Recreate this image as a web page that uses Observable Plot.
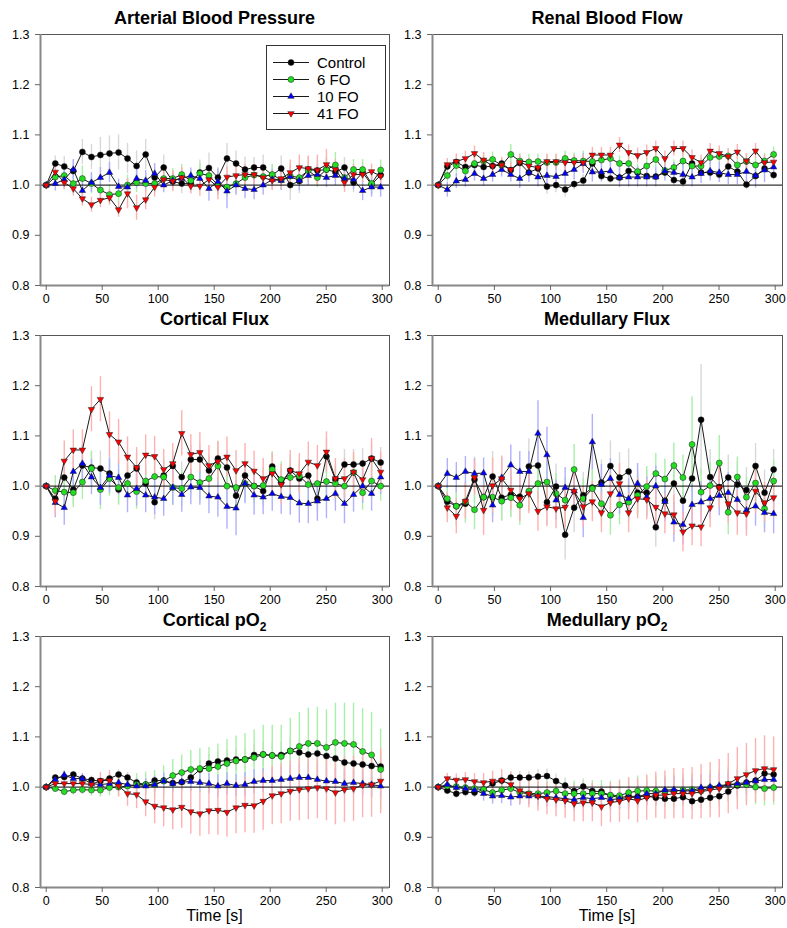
<!DOCTYPE html>
<html><head><meta charset="utf-8">
<script src="https://cdn.jsdelivr.net/npm/d3@7"></script>
<script src="https://cdn.jsdelivr.net/npm/@observablehq/plot@0.6"></script>
<style>
body{margin:0;background:#fff;font-family:"Liberation Sans",Arial,Helvetica,sans-serif;}
#wrap{position:relative;width:787px;height:928px;overflow:hidden;background:#fff;}
.ttl{position:absolute;font-weight:bold;font-size:18px;line-height:20px;text-align:center;color:#000;white-space:nowrap;}
.ttl sub{font-size:12px;line-height:0;}
.pnl{position:absolute;}
.xlab{position:absolute;font-size:16px;line-height:18px;text-align:center;color:#000;}
#legend{position:absolute;left:266px;top:45px;width:118px;height:83px;border:1px solid #333;background:#fff;}
</style></head><body><div id="wrap"></div>
<script>
const series = ["Control", "6 FO", "10 FO", "41 FO"];
const fills = ["#000000", "#22dd22", "#0000ff", "#ff0000"];
const errColors = ["#d8d8d8", "#a8f0a8", "#b0b0ff", "#ffb0b0"];
const time = [0,8.1,16.1,24.2,32.3,40.4,48.4,56.5,64.6,72.6,80.7,88.8,96.8,104.9,113,121,129.1,137.2,145.3,153.3,161.4,169.5,177.5,185.6,193.7,201.8,209.8,217.9,226,234,242.1,250.2,258.2,266.3,274.4,282.5,290.5,298.6];
const xTicks = [0, 50, 100, 150, 200, 250, 300];
const yTicks = [0.8, 0.9, 1.0, 1.1, 1.2, 1.3];

// Arterial Blood Pressure
const abpControl = [1.000,1.043,1.037,1.028,1.066,1.056,1.060,1.063,1.065,1.053,1.038,1.061,1.015,1.035,1.007,1.003,1.003,1.025,1.034,1.015,1.053,1.043,1.031,1.035,1.035,1.020,1.033,1.000,1.008,1.031,1.029,1.031,1.026,1.035,1.005,1.025,1.001,1.020];
const abp6FO = [1.000,1.016,1.019,1.003,1.013,1.003,0.990,0.981,0.983,1.000,1.005,1.003,1.003,1.013,1.013,1.021,1.009,1.023,1.019,1.000,0.996,1.003,1.015,1.020,1.017,1.021,1.010,1.018,1.015,1.029,1.015,1.031,1.040,1.015,1.031,1.031,1.003,1.030];
const abp10FO = [1.000,1.003,1.011,1.031,0.989,1.005,1.015,1.025,0.997,0.996,1.013,1.009,1.023,1.000,1.009,1.013,1.019,1.013,0.993,1.007,0.988,1.000,0.993,0.991,1.000,1.011,1.009,1.017,1.009,1.019,1.021,1.015,1.019,1.013,1.011,0.989,0.996,0.996];
const abp41FO = [1.000,1.026,1.005,0.993,0.973,0.961,0.970,0.975,0.951,0.983,0.955,0.971,0.996,1.011,1.008,1.015,0.998,0.998,1.011,0.996,1.016,1.019,1.021,1.021,1.015,1.009,1.013,1.025,1.035,1.033,1.030,1.041,1.031,1.005,1.021,1.021,1.027,1.018];
const abpErrControl = [0,15,20,20,25,25,35,35,35,30,30,30,25,25,20,20,20,25,30,20,30,25,25,20,25,20,25,30,25,25,20,20,20,20,20,20,20,20];
const abpErr6FO = [0,15,20,20,25,20,20,20,20,20,20,20,20,20,20,20,20,20,20,20,20,20,25,20,20,20,20,25,25,25,20,25,25,20,20,20,20,20];
const abpErr10FO = [0,15,20,20,20,20,20,20,15,15,20,20,20,15,15,15,15,15,25,25,35,20,20,20,20,20,20,20,20,20,20,20,20,20,20,20,20,20];
const abpErr41FO = [0,15,15,15,15,15,15,15,15,30,25,20,20,20,20,20,15,20,20,25,20,20,20,20,20,20,20,25,25,25,30,30,20,20,20,15,15,15];

// Renal Blood Flow
const rbfControl = [1.000,1.037,1.046,1.036,1.040,1.036,1.038,1.043,1.030,1.044,1.025,1.033,0.997,1.000,0.991,1.002,1.009,1.043,1.018,1.013,1.015,1.028,1.025,1.018,1.017,1.025,1.010,1.007,1.043,1.025,1.025,1.021,1.037,1.027,1.001,1.018,1.033,1.020];
const rbf6FO = [1.000,1.019,1.039,1.028,1.043,1.048,1.051,1.039,1.061,1.048,1.046,1.047,1.045,1.045,1.053,1.049,1.048,1.047,1.050,1.053,1.043,1.043,1.027,1.038,1.051,1.029,1.035,1.048,1.038,1.038,1.055,1.057,1.058,1.040,1.047,1.040,1.048,1.061];
const rbf10FO = [1.000,0.991,1.008,1.011,1.023,1.013,1.021,1.031,1.021,1.013,1.025,1.016,1.019,1.017,1.023,1.031,1.043,1.026,1.026,1.028,1.015,1.016,1.016,1.016,1.016,1.028,1.025,1.021,1.016,1.023,1.028,1.025,1.021,1.021,1.027,1.019,1.030,1.036];
const rbf41FO = [1.000,1.041,1.047,1.053,1.063,1.050,1.038,1.040,1.031,1.046,1.038,1.035,1.047,1.047,1.045,1.045,1.045,1.060,1.060,1.060,1.080,1.065,1.059,1.065,1.073,1.053,1.073,1.073,1.055,1.045,1.068,1.063,1.057,1.066,1.048,1.068,1.045,1.046];
const rbfErrControl = [0,8,10,10,10,10,10,10,10,10,12,12,15,15,15,12,12,12,10,10,10,10,10,10,10,10,12,12,12,10,10,10,10,10,10,10,10,10];
const rbfErr6FO = [0,12,15,15,15,15,15,15,20,15,15,15,15,15,15,15,20,15,15,15,15,15,15,15,15,15,15,15,15,15,15,15,15,15,15,15,15,15];
const rbfErr10FO = [0,15,15,15,15,15,15,15,15,20,20,20,20,20,20,20,20,20,20,20,20,20,20,20,20,20,20,20,20,20,20,20,20,20,20,25,25,20];
const rbfErr41FO = [0,12,15,15,15,15,15,15,15,15,15,15,15,15,15,15,15,15,15,15,15,15,15,15,15,15,15,15,15,15,15,15,15,15,15,15,15,15];

// Cortical Flux
const cfControl = [1.000,0.975,1.017,0.993,1.041,1.037,1.035,1.025,0.993,1.021,1.035,1.005,0.968,1.021,1.040,1.018,1.053,1.053,1.031,1.055,1.037,0.981,1.021,1.000,0.990,1.039,1.007,1.031,1.015,1.021,0.975,1.059,1.013,1.043,1.043,1.045,1.055,1.047];
const cf6FO = [1.000,0.991,0.988,0.987,1.008,1.035,0.993,1.015,0.997,1.005,0.989,1.010,1.019,1.018,0.997,0.995,1.018,1.007,1.015,1.040,1.000,0.997,1.005,1.000,1.001,1.033,1.013,1.017,1.020,1.003,1.005,1.009,1.005,1.000,1.027,0.987,1.010,1.000];
const cf10FO = [1.000,0.967,0.957,1.029,1.045,1.018,0.997,1.021,1.017,0.982,0.995,0.982,0.978,0.975,0.997,0.983,0.998,0.997,0.980,0.978,0.959,0.956,1.005,0.982,0.978,0.985,0.979,0.977,0.966,0.965,0.970,0.975,0.985,0.965,0.983,1.000,0.985,1.018];
const cf41FO = [1.000,0.970,1.050,1.072,1.072,1.153,1.173,1.103,1.088,1.058,1.037,1.062,1.059,1.033,1.045,1.105,1.063,1.067,1.041,1.049,1.058,1.031,1.045,1.030,1.015,1.025,1.003,1.031,1.025,1.048,1.041,1.068,1.015,1.015,1.028,1.013,1.055,1.028];
const cfErrControl = [0,20,30,30,30,30,35,35,30,30,30,30,35,30,30,30,30,30,30,35,35,30,30,30,30,30,30,30,30,30,30,35,30,30,30,30,30,30];
const cfErr6FO = [0,30,30,30,35,35,40,35,35,35,35,35,35,35,35,35,35,35,35,40,40,40,35,35,35,35,35,35,35,35,35,35,35,35,35,35,35,30];
const cfErr10FO = [0,30,35,30,35,35,35,35,35,35,35,35,35,35,35,35,35,35,35,40,45,55,40,40,35,35,35,35,40,40,40,40,35,40,35,35,35,35];
const cfErr41FO = [0,30,40,40,40,45,45,45,45,40,40,40,40,40,40,45,40,40,40,40,40,40,40,40,40,40,40,40,40,40,40,40,40,40,40,40,40,40];

// Medullary Flux
const mfControl = [1.000,0.969,0.960,0.965,1.013,0.978,1.019,0.977,0.983,0.979,1.039,1.041,0.968,0.999,0.903,0.957,0.982,0.997,1.007,1.040,1.017,1.029,0.987,0.987,0.918,0.971,1.005,0.971,1.015,1.132,1.018,0.998,1.017,1.003,0.992,1.040,0.987,1.033];
const mf6FO = [1.000,0.975,0.960,0.969,0.953,0.978,0.978,0.970,0.977,0.962,0.990,1.005,1.008,0.985,0.972,1.033,0.975,0.995,0.965,0.942,0.963,0.968,0.982,0.999,1.025,1.014,1.041,1.017,1.083,0.988,1.001,1.046,0.948,1.018,0.978,1.006,0.955,1.010];
const mf10FO = [1.000,1.025,1.017,1.029,1.025,1.026,0.962,1.017,1.042,1.029,1.029,1.105,1.062,0.972,0.997,0.990,0.937,1.088,1.003,1.015,0.983,0.975,1.005,0.978,1.000,0.969,0.928,0.923,0.963,0.968,0.975,0.981,0.987,0.973,0.952,0.960,0.947,0.945];
const mf41FO = [1.000,0.957,0.940,0.970,1.017,0.952,1.001,1.015,0.992,0.975,0.985,0.950,0.959,0.955,0.958,0.990,0.959,0.969,0.947,0.985,1.005,0.947,0.975,0.973,0.958,0.945,0.943,0.909,0.921,0.919,0.957,0.997,0.965,0.947,0.945,0.990,0.967,0.977];
const mfErrControl = [0,30,40,40,45,45,50,45,45,50,55,60,45,45,50,50,45,45,45,50,50,45,45,45,40,40,45,45,60,110,55,45,45,45,45,45,45,40];
const mfErr6FO = [0,30,40,40,40,40,40,40,40,40,40,40,40,40,45,50,40,40,40,40,40,40,40,40,40,40,45,45,95,45,45,55,45,40,40,40,40,40];
const mfErr10FO = [0,30,30,30,30,30,35,40,40,40,40,65,55,40,40,40,40,55,40,40,40,40,40,40,40,40,40,40,40,40,40,40,40,40,40,40,40,40];
const mfErr41FO = [0,30,35,35,35,50,55,45,40,45,40,40,40,40,40,40,40,40,40,40,40,40,40,40,40,40,40,40,40,40,40,40,40,45,45,45,40,40];

// Cortical pO2
const cpoControl = [1.000,1.019,1.020,1.025,1.017,1.014,1.012,1.017,1.025,1.019,1.009,1.005,1.013,1.013,1.008,1.010,1.019,1.035,1.047,1.051,1.053,1.055,1.055,1.064,1.065,1.063,1.064,1.072,1.069,1.065,1.067,1.062,1.057,1.049,1.047,1.045,1.042,1.041];
const cpo6FO = [1.000,0.997,0.991,0.994,0.995,0.994,0.994,0.999,1.000,1.002,1.005,1.005,1.005,1.012,1.023,1.029,1.035,1.037,1.037,1.041,1.047,1.052,1.055,1.059,1.065,1.063,1.061,1.072,1.081,1.087,1.087,1.079,1.089,1.087,1.085,1.071,1.064,1.035];
const cpo10FO = [1.000,1.015,1.024,1.017,1.017,1.007,1.005,1.007,1.009,1.005,1.002,1.002,1.005,1.012,1.007,1.010,1.011,1.009,1.007,1.002,1.007,1.003,1.005,1.011,1.013,1.013,1.015,1.017,1.019,1.019,1.015,1.012,1.011,1.007,1.009,1.007,1.005,1.002];
const cpo41FO = [1.000,1.007,1.007,1.007,1.007,1.005,1.013,1.013,1.002,0.987,0.985,0.971,0.962,0.959,0.955,0.960,0.951,0.947,0.953,0.954,0.950,0.959,0.964,0.963,0.972,0.983,0.987,0.992,0.995,0.997,0.999,0.997,0.989,0.995,0.997,1.004,1.005,1.012];
const cpoErrControl = [0,5,5,5,5,8,8,10,10,10,10,12,12,14,15,15,16,18,18,20,20,22,22,22,24,25,25,26,26,26,28,28,28,28,28,30,30,30];
const cpoErr6FO = [0,8,8,10,10,12,14,16,18,20,22,25,28,30,32,35,38,40,42,45,48,50,52,55,58,60,62,65,68,70,72,75,78,80,82,85,85,80];
const cpoErr10FO = [0,6,8,8,10,10,12,12,12,14,14,15,16,16,18,18,20,20,20,22,22,22,24,24,24,25,25,26,26,26,26,26,26,25,25,25,25,25];
const cpoErr41FO = [0,8,8,10,12,14,16,20,22,25,28,30,35,38,40,42,45,45,48,50,50,52,55,55,58,58,60,60,62,62,62,64,64,65,65,65,65,65];

// Medullary pO2
const mpoControl = [1.000,0.993,0.987,0.990,0.989,0.995,1.007,1.013,1.019,1.019,1.019,1.021,1.022,1.012,1.003,0.992,1.001,0.992,0.991,0.983,0.979,0.982,0.981,0.982,0.979,0.977,0.977,0.980,0.972,0.975,0.979,0.982,0.991,1.003,1.009,1.013,1.027,1.025];
const mpo6FO = [1.000,1.002,1.001,0.999,0.997,0.995,0.989,0.994,0.997,0.989,0.987,0.987,0.989,0.992,0.987,0.987,0.987,0.987,0.987,0.984,0.983,0.989,0.992,0.993,0.992,0.992,0.992,0.994,0.995,0.992,0.999,1.000,1.005,1.005,1.005,1.000,0.997,0.999];
const mpo10FO = [1.000,1.005,0.999,0.997,0.994,0.987,0.982,0.983,0.980,0.982,0.982,0.982,0.981,0.979,0.977,0.975,0.979,0.977,0.979,0.975,0.977,0.979,0.980,0.987,0.987,0.994,0.995,0.992,0.993,0.999,1.000,1.003,1.005,1.007,1.009,1.012,1.015,1.015];
const mpo41FO = [1.000,1.017,1.014,1.015,1.011,1.009,1.012,1.013,1.005,0.993,0.987,0.982,0.977,0.975,0.973,0.967,0.969,0.969,0.961,0.969,0.972,0.977,0.973,0.979,0.984,0.984,0.987,0.987,0.987,0.991,0.994,0.997,1.007,1.017,1.025,1.033,1.037,1.035];
const mpoErrControl = [0,8,10,10,10,12,12,12,12,12,12,14,14,14,15,15,15,15,15,16,16,16,16,16,16,18,18,18,18,18,20,20,20,20,22,22,22,22];
const mpoErr6FO = [0,10,12,14,15,16,18,18,20,20,20,22,22,24,24,25,25,26,26,28,28,28,30,30,30,30,32,32,32,32,34,34,34,34,35,35,35,35];
const mpoErr10FO = [0,8,10,12,14,15,16,16,18,18,18,20,20,20,20,22,22,22,22,22,22,24,24,24,24,24,25,25,25,25,25,25,25,25,25,25,25,25];
const mpoErr41FO = [0,10,12,14,16,18,20,22,24,26,28,30,32,34,35,36,38,38,40,40,42,42,44,45,46,48,50,50,52,54,55,58,60,62,62,64,65,65];

const panels = [
  {title: "Arterial Blood Pressure", col: 0, row: 0, vals: [abpControl, abp6FO, abp10FO, abp41FO], errs: [abpErrControl, abpErr6FO, abpErr10FO, abpErr41FO]},
  {title: "Renal Blood Flow", col: 1, row: 0, vals: [rbfControl, rbf6FO, rbf10FO, rbf41FO], errs: [rbfErrControl, rbfErr6FO, rbfErr10FO, rbfErr41FO]},
  {title: "Cortical Flux", col: 0, row: 1, vals: [cfControl, cf6FO, cf10FO, cf41FO], errs: [cfErrControl, cfErr6FO, cfErr10FO, cfErr41FO]},
  {title: "Medullary Flux", col: 1, row: 1, vals: [mfControl, mf6FO, mf10FO, mf41FO], errs: [mfErrControl, mfErr6FO, mfErr10FO, mfErr41FO]},
  {title: "Cortical pO<sub>2</sub>", col: 0, row: 2, vals: [cpoControl, cpo6FO, cpo10FO, cpo41FO], errs: [cpoErrControl, cpoErr6FO, cpoErr10FO, cpoErr41FO]},
  {title: "Medullary pO<sub>2</sub>", col: 1, row: 2, vals: [mpoControl, mpo6FO, mpo10FO, mpo41FO], errs: [mpoErrControl, mpoErr6FO, mpoErr10FO, mpoErr41FO]}
];

const sqrt3 = Math.sqrt(3);
const triangleDown = {
  draw(context, size) {
    const y = -Math.sqrt(size / (sqrt3 * 3));
    context.moveTo(0, -y * 2);
    context.lineTo(-sqrt3 * y, y);
    context.lineTo(sqrt3 * y, y);
    context.closePath();
  }
};
const symbols = ["circle", "circle", "triangle", triangleDown];
const radii = [3.0, 3.0, 2.4, 2.4];

const wrap = document.getElementById("wrap");
const colLayout = [{left: 0, width: 393, ml: 40, mr: 4}, {left: 393, width: 394, ml: 39, mr: 5}];
const rowTop = [34, 335, 636];
const plotH = 251;
const mt = 6, mb = 30;
const xDomain = [-5.1, 306.5];

panels.forEach(p => {
  const c = colLayout[p.col];
  const top = rowTop[p.row];
  const rows = [];
  series.forEach((s, k) => p.vals[k].forEach((v, i) => rows.push({t: time[i], v, e: p.errs[k][i] / 1000, s, k})));
  const errMarks = series.map((s, k) => Plot.ruleX(rows.filter(d => d.k === k && d.e > 0), {
    x: "t", y1: d => d.v - d.e, y2: d => d.v + d.e, stroke: errColors[k], strokeWidth: 1.4
  }));
  const lineMarks = [];
  series.forEach((s, k) => {
    const sub = rows.filter(d => d.k === k);
    lineMarks.push(Plot.line(sub, {x: "t", y: "v", stroke: "#1a1a1a", strokeWidth: 1}));
    lineMarks.push(Plot.dot(sub, {x: "t", y: "v", symbol: "s", fill: "s", r: radii[k], stroke: "#222", strokeWidth: 0.5}));
  });
  const chart = Plot.plot({
    width: c.width, height: mt + plotH + mb,
    marginLeft: c.ml, marginRight: c.mr, marginTop: mt, marginBottom: mb,
    x: {domain: xDomain, label: null},
    y: {domain: [0.8, 1.3], label: null},
    color: {domain: series, range: fills},
    symbol: {domain: series, range: symbols},
    style: {fontFamily: '"Liberation Sans", Arial, sans-serif', fontSize: "12.5px", background: "transparent", color: "#000"},
    marks: [
      ...errMarks,
      Plot.ruleY([1], {stroke: "#000", strokeWidth: 1}),
      ...lineMarks,
      Plot.frame({stroke: "#555", strokeWidth: 1}),
      Plot.ruleX([xDomain[0]], {stroke: "#888", strokeWidth: 2}),
      Plot.ruleY([0.8], {stroke: "#888", strokeWidth: 2}),
      Plot.axisX({ticks: xTicks, tickSize: 5, tickPadding: 4, stroke: "#666", fill: "#000", label: null}),
      Plot.axisY({ticks: yTicks, tickFormat: ".1f", tickSize: 5, tickPadding: 6, stroke: "#666", fill: "#000", label: null})
    ]
  });
  const div = document.createElement("div");
  div.className = "pnl";
  div.style.left = c.left + "px";
  div.style.top = (top - mt) + "px";
  div.appendChild(chart);
  wrap.appendChild(div);

  const t = document.createElement("div");
  t.className = "ttl";
  t.innerHTML = p.title;
  const cx = c.left + c.ml + (c.width - c.ml - c.mr) / 2;
  t.style.left = (cx - 150) + "px";
  t.style.width = "300px";
  t.style.top = (top - 26) + "px";
  wrap.appendChild(t);

  if (p.row === 2) {
    const xl = document.createElement("div");
    xl.className = "xlab";
    xl.textContent = "Time [s]";
    xl.style.left = (cx - 60) + "px";
    xl.style.width = "120px";
    xl.style.top = (top + plotH + 20) + "px";
    wrap.appendChild(xl);
  }
});

// legend
const leg = document.createElement("div");
leg.id = "legend";
wrap.appendChild(leg);
const lsvg = d3.select(leg).append("svg").attr("width", 118).attr("height", 83)
  .style("position", "absolute").style("left", 0).style("top", 0);
series.forEach((s, k) => {
  const y = 16.5 + k * 17;
  const g = lsvg.append("g");
  g.append("line").attr("x1", 6).attr("x2", 42).attr("y1", y).attr("y2", y).attr("stroke", "#1a1a1a").attr("stroke-width", 1);
  const sym = k < 2 ? d3.symbolCircle : (k === 2 ? d3.symbolTriangle : triangleDown);
  const r = radii[k];
  g.append("path").attr("d", d3.symbol(sym, r * r * Math.PI)()).attr("transform", `translate(24,${y})`)
    .attr("fill", fills[k]).attr("stroke", "#222").attr("stroke-width", 0.5);
  g.append("text").attr("x", 50).attr("y", y).attr("dy", "0.35em").attr("font-size", 15)
    .attr("font-family", '"Liberation Sans", Arial, sans-serif').attr("fill", "#000").text(s);
});
</script>
</body></html>
